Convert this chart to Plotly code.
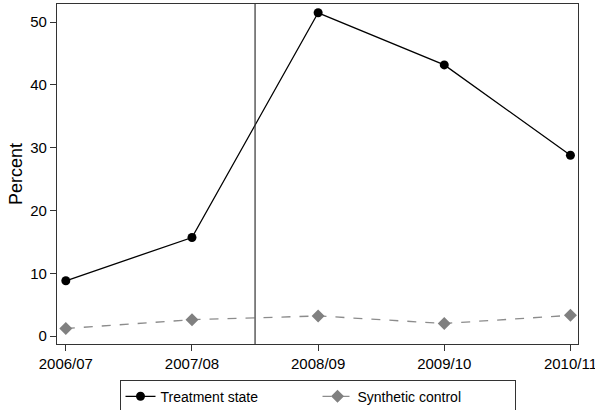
import plotly.graph_objects as go

years = ["2006/07", "2007/08", "2008/09", "2009/10", "2010/11"]
treatment = [8.8, 15.7, 51.5, 43.2, 28.8]
synthetic = [1.2, 2.6, 3.2, 2.0, 3.3]
y_ticks = [0, 10, 20, 30, 40, 50]
cutoff = 1.5  # treatment starts between 2007/08 and 2008/09

xs = list(range(len(years)))

fig = go.Figure()
fig.add_trace(go.Scatter(
    x=xs, y=treatment, name="Treatment state", mode="lines+markers",
    line=dict(color="black", width=1.3),
    marker=dict(symbol="circle", size=9, color="black"),
))
fig.add_trace(go.Scatter(
    x=xs, y=synthetic, name="Synthetic control", mode="lines+markers",
    line=dict(color="#8c8c8c", width=1.3, dash="dash"),
    marker=dict(symbol="diamond", size=10, color="#808080"),
))
fig.add_vline(x=cutoff, line_color="#333333", line_width=1.2)

fig.update_layout(
    width=595, height=410,
    paper_bgcolor="white", plot_bgcolor="white",
    font=dict(family="Liberation Sans, Arial, sans-serif", size=15, color="black"),
    margin=dict(l=57, r=17, t=4, b=66, autoexpand=False),
    showlegend=True,
    legend=dict(
        orientation="h", x=0.5, xanchor="center", y=-0.105, yanchor="top",
        bordercolor="#333333", borderwidth=1, font=dict(size=14),
        entrywidth=152,
    ),
)
fig.update_xaxes(
    range=[-0.07, 4.06], tickvals=xs, ticktext=years,
    showgrid=False, zeroline=False, ticks="outside", ticklen=6,
    tickcolor="#333333", showline=True, linecolor="#333333", linewidth=1.2,
    mirror=True, automargin=False, ticklabeloverflow="allow",
)
fig.update_yaxes(
    range=[-1.27, 52.9], tickvals=y_ticks, title_text="Percent",
    title_standoff=2, showgrid=False, zeroline=False, ticks="outside",
    ticklen=6, tickcolor="#333333", showline=True, linecolor="#333333",
    linewidth=1.2, mirror=True, automargin=False,
)

# page body has a default 8px margin; drop it so the figure fills the window
fig.write_html(
    "out.html",
    config={"displayModeBar": False},
    post_script="document.body.style.margin='0';",
)
